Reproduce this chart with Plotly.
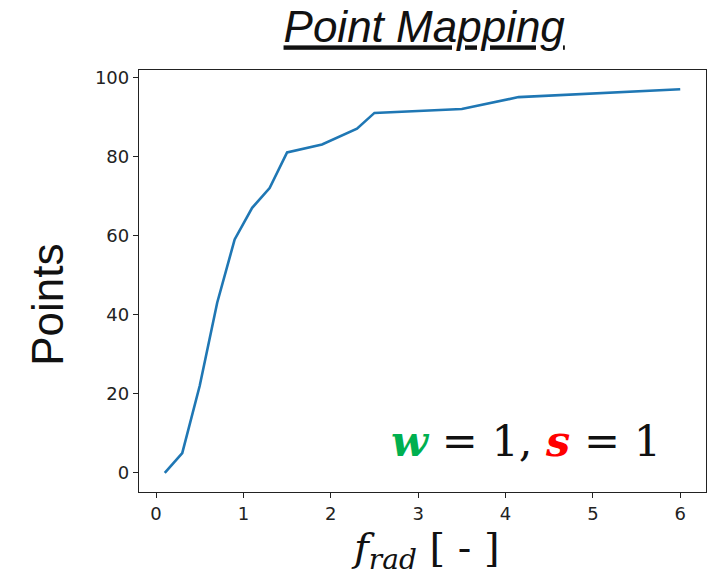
import plotly.graph_objects as go

f_rad = [0.1, 0.3, 0.5, 0.7, 0.9, 1.1, 1.3, 1.5, 1.9, 2.3, 2.5, 3.5, 4.15, 6.0]
points = [0, 5, 22, 43, 59, 67, 72, 81, 83, 87, 91, 92, 95, 97]
x_ticks = [0, 1, 2, 3, 4, 5, 6]
y_ticks = [0, 20, 40, 60, 80, 100]

fig = go.Figure()
fig.add_trace(go.Scatter(x=f_rad, y=points, mode="lines",
                         line=dict(color="#1f77b4", width=2.6), showlegend=False))

axis_common = dict(showline=True, linecolor="#222", linewidth=1.3, mirror=True,
                   ticks="outside", ticklen=5, tickwidth=1.2, tickcolor="#222",
                   showgrid=False, zeroline=False,
                   tickfont=dict(family="DejaVu Sans", size=18, color="#222"))

fig.update_xaxes(range=[-0.195, 6.295], tickvals=x_ticks, **axis_common)
fig.update_yaxes(range=[-4.85, 101.85], tickvals=y_ticks, **axis_common)

fig.update_layout(
    width=710, height=581,
    margin=dict(l=139, r=4, t=70, b=89),
    plot_bgcolor="white", paper_bgcolor="white",
    title=dict(text="Point Mapping", x=0.503, xref="paper", xanchor="center",
               yref="container", y=1 - 27 / 581, yanchor="middle",
               font=dict(family="Liberation Sans", size=44, color="#111",
                         style="italic", lineposition="under")),
    annotations=[
        dict(text="Points", xref="paper", yref="paper", x=-0.162, y=0.444,
             xanchor="center", yanchor="middle", textangle=-90, showarrow=False,
             font=dict(family="Liberation Sans", size=44, color="#111")),
        dict(text="<i>f</i><sub><i>rad</i></sub> [ - ]", xref="paper", yref="paper",
             x=0.505, y=-0.137, xanchor="center", yanchor="middle", showarrow=False,
             font=dict(family="DejaVu Serif", size=40, color="#111")),
        dict(text="<b><i><span style='color:#00B050'>w</span></i></b> = 1, "
                  "<b><i><span style='color:#FF0000'>s</span></i></b> = 1",
             xref="paper", yref="paper", x=0.683, y=0.121,
             xanchor="center", yanchor="middle", showarrow=False,
             font=dict(family="DejaVu Serif", size=43, color="#111")),
    ],
)

fig.write_html("out.html")
